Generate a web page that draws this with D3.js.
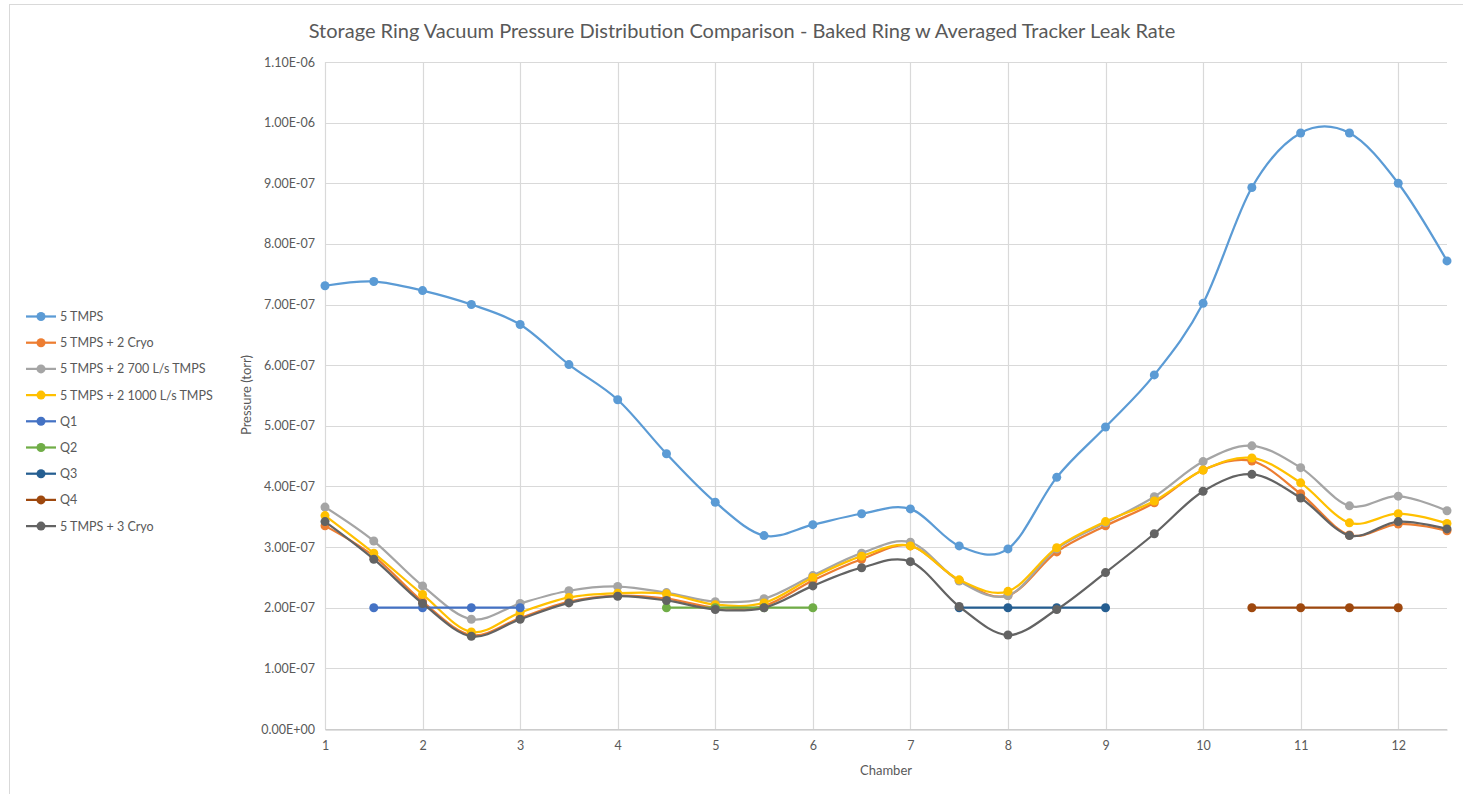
<!DOCTYPE html>
<html>
<head>
<meta charset="utf-8">
<script src="https://cdn.jsdelivr.net/npm/d3@7"></script>
<style>
  html, body { margin: 0; padding: 0; background: #fff; }
  svg { display: block; }
  text { font-family: Lato, "Open Sans", sans-serif; }
</style>
</head>
<body>
<svg id="chart" width="1463" height="794"></svg>
<script>
const title = "Storage Ring Vacuum Pressure Distribution Comparison - Baked Ring w Averaged Tracker Leak Rate";
const xLabel = "Chamber";
const yLabel = "Pressure (torr)";

const chambers = [1, 1.5, 2, 2.5, 3, 3.5, 4, 4.5, 5, 5.5, 6, 6.5, 7, 7.5, 8, 8.5, 9, 9.5, 10, 10.5, 11, 11.5, 12, 12.5];
const xTicks = [1, 2, 3, 4, 5, 6, 7, 8, 9, 10, 11, 12];
const yTicks = [0, 1e-7, 2e-7, 3e-7, 4e-7, 5e-7, 6e-7, 7e-7, 8e-7, 9e-7, 1e-6, 1.1e-6];
const yTickLabels = ["0.00E+00", "1.00E-07", "2.00E-07", "3.00E-07", "4.00E-07", "5.00E-07", "6.00E-07", "7.00E-07", "8.00E-07", "9.00E-07", "1.00E-06", "1.10E-06"];

const tmps5 = [7.31, 7.38, 7.23, 7.00, 6.67, 6.01, 5.43, 4.54, 3.74, 3.19, 3.37, 3.55, 3.63, 3.02, 2.97, 4.15, 4.98, 5.84, 7.02, 8.93, 9.83, 9.83, 9.00, 7.72];
const cryo2 = [3.35, 2.85, 2.10, 1.55, 1.83, 2.10, 2.20, 2.15, 2.00, 2.03, 2.45, 2.80, 3.02, 2.45, 2.20, 2.92, 3.35, 3.73, 4.27, 4.42, 3.88, 3.20, 3.38, 3.27];
const tmps700 = [3.66, 3.10, 2.36, 1.81, 2.07, 2.28, 2.35, 2.25, 2.10, 2.15, 2.53, 2.90, 3.08, 2.44, 2.20, 2.97, 3.40, 3.83, 4.41, 4.67, 4.31, 3.68, 3.84, 3.60];
const tmps1000 = [3.52, 2.90, 2.22, 1.60, 1.92, 2.17, 2.24, 2.23, 2.05, 2.08, 2.50, 2.85, 3.02, 2.46, 2.27, 2.99, 3.42, 3.76, 4.27, 4.47, 4.06, 3.40, 3.55, 3.39];
const cryo3 = [3.42, 2.80, 2.07, 1.53, 1.81, 2.08, 2.19, 2.12, 1.97, 2.00, 2.36, 2.66, 2.76, 2.02, 1.55, 1.97, 2.58, 3.22, 3.92, 4.20, 3.81, 3.19, 3.42, 3.30];
const q1X = [1.5, 2, 2.5, 3];
const q2X = [4.5, 5, 5.5, 6];
const q3X = [7.5, 8, 8.5, 9];
const q4X = [10.5, 11, 11.5, 12];
const qLevel = [2, 2, 2, 2];

const scaleE7 = v => v * 1e-7;
const seriesNames = ["5 TMPS", "5 TMPS + 2 Cryo", "5 TMPS + 2 700 L/s TMPS", "5 TMPS + 2 1000 L/s TMPS", "Q1", "Q2", "Q3", "Q4", "5 TMPS + 3 Cryo"];
const seriesColors = ["#5B9BD5", "#ED7D31", "#A5A5A5", "#FFC000", "#4472C4", "#70AD47", "#255E91", "#9E480E", "#636363"];
const seriesX = [chambers, chambers, chambers, chambers, q1X, q2X, q3X, q4X, chambers];
const seriesY = [tmps5, cryo2, tmps700, tmps1000, qLevel, qLevel, qLevel, qLevel, cryo3];

const series = seriesNames.map((name, i) => ({
  name, color: seriesColors[i],
  points: seriesX[i].map((x, j) => ({ x, y: scaleE7(seriesY[i][j]) }))
}));

const svg = d3.select("#chart");
const margin = { left: 325, right: 16, top: 62, bottom: 65 };
const W = 1463, H = 794;

// chart frame border
svg.append("rect").attr("x", 9.5).attr("y", 4.5).attr("width", W).attr("height", H)
  .attr("fill", "none").attr("stroke", "#D9D9D9").attr("stroke-width", 1);

const x = d3.scaleLinear().domain([1, 12.5]).range([margin.left, W - margin.right]);
const y = d3.scaleLinear().domain([0, 1.1e-6]).range([H - margin.bottom, margin.top]);

const grid = svg.append("g");
grid.selectAll("line.h").data(yTicks).join("line")
  .attr("x1", x(1)).attr("x2", x(12.5))
  .attr("y1", d => Math.round(y(d)) + 0.5).attr("y2", d => Math.round(y(d)) + 0.5)
  .attr("stroke", "#D9D9D9").attr("stroke-width", 1.2);
grid.selectAll("line.v").data(xTicks).join("line")
  .attr("x1", d => Math.round(x(d)) + 0.5).attr("x2", d => Math.round(x(d)) + 0.5)
  .attr("y1", y(0)).attr("y2", y(1.1e-6))
  .attr("stroke", "#D9D9D9").attr("stroke-width", 1.2);

// axes
const xAxis = d3.axisBottom(x).tickValues(xTicks).tickSize(0).tickPadding(12).tickFormat(d3.format("d"));
const gx = svg.append("g").attr("transform", `translate(0,${Math.round(y(0)) + 0.5})`).call(xAxis);
gx.select(".domain").attr("stroke", "#BFBFBF").attr("stroke-width", 1.2);
gx.selectAll("text").attr("fill", "#595959").attr("font-size", 12.5);

const yAxis = d3.axisLeft(y).tickValues(yTicks).tickSize(0).tickPadding(10)
  .tickFormat((d, i) => yTickLabels[i]);
const gy = svg.append("g").attr("transform", `translate(${margin.left},0)`).call(yAxis);
gy.select(".domain").remove();
gy.selectAll("text").attr("fill", "#595959").attr("font-size", 12.5);

// titles
svg.append("text").attr("x", 742).attr("y", 38).attr("text-anchor", "middle")
  .attr("font-size", 20).attr("fill", "#595959").text(title);
svg.append("text").attr("x", 886).attr("y", 775).attr("text-anchor", "middle")
  .attr("font-size", 13).attr("fill", "#595959").text(xLabel);
svg.append("text").attr("transform", "translate(251,395) rotate(-90)").attr("text-anchor", "middle")
  .attr("font-size", 13).attr("fill", "#595959").text(yLabel);

// series
const line = d3.line().x(d => x(d.x)).y(d => y(d.y)).curve(d3.curveCardinal.tension(0));
const gs = svg.append("g");
series.forEach(s => {
  const g = gs.append("g");
  g.append("path").datum(s.points).attr("d", line)
    .attr("fill", "none").attr("stroke", s.color).attr("stroke-width", 2.25);
  g.selectAll("circle").data(s.points).join("circle")
    .attr("cx", d => x(d.x)).attr("cy", d => y(d.y)).attr("r", 4.5)
    .attr("fill", s.color);
});

// legend
const lg = svg.append("g");
series.forEach((s, i) => {
  const yy = 316.5 + i * 26.2;
  lg.append("line").attr("x1", 26).attr("x2", 56).attr("y1", yy).attr("y2", yy)
    .attr("stroke", s.color).attr("stroke-width", 2.25);
  lg.append("circle").attr("cx", 41).attr("cy", yy).attr("r", 4.5).attr("fill", s.color);
  lg.append("text").attr("x", 60).attr("y", yy + 4.5).attr("font-size", 12.5)
    .attr("fill", "#595959").text(s.name);
});
</script>
</body>
</html>
